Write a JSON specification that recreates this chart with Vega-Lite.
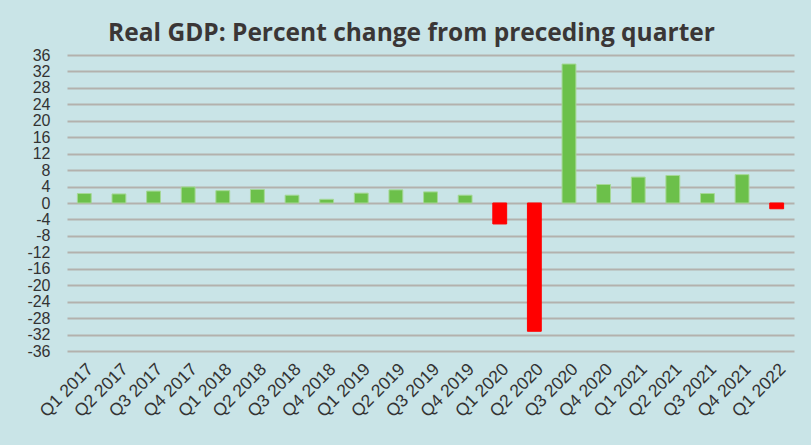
{
  "$schema": "https://vega.github.io/schema/vega-lite/v6.json",
  "width": 727,
  "height": 296,
  "autosize": {"type": "none"},
  "padding": {"left": 67, "top": 55, "right": 17, "bottom": 94},
  "background": "#c9e4e7",
  "title": {
    "text": "Real GDP: Percent change from preceding quarter",
    "font": "Open Sans",
    "fontSize": 24.5,
    "fontWeight": "bold",
    "color": "#3a3636",
    "anchor": "middle",
    "dx": -19,
    "offset": 1
  },
  "data": {
    "values": [
      {"quarter": "Q1 2017", "value": 2.3},
      {"quarter": "Q2 2017", "value": 2.2},
      {"quarter": "Q3 2017", "value": 2.9},
      {"quarter": "Q4 2017", "value": 3.9},
      {"quarter": "Q1 2018", "value": 3.0},
      {"quarter": "Q2 2018", "value": 3.3},
      {"quarter": "Q3 2018", "value": 1.9},
      {"quarter": "Q4 2018", "value": 0.9},
      {"quarter": "Q1 2019", "value": 2.4},
      {"quarter": "Q2 2019", "value": 3.2},
      {"quarter": "Q3 2019", "value": 2.7},
      {"quarter": "Q4 2019", "value": 1.9},
      {"quarter": "Q1 2020", "value": -5.1},
      {"quarter": "Q2 2020", "value": -31.2},
      {"quarter": "Q3 2020", "value": 33.8},
      {"quarter": "Q4 2020", "value": 4.5},
      {"quarter": "Q1 2021", "value": 6.3},
      {"quarter": "Q2 2021", "value": 6.7},
      {"quarter": "Q3 2021", "value": 2.3},
      {"quarter": "Q4 2021", "value": 6.9},
      {"quarter": "Q1 2022", "value": -1.4}
    ]
  },
  "mark": {"type": "bar", "strokeWidth": 1},
  "encoding": {
    "x": {
      "field": "quarter",
      "type": "ordinal",
      "sort": null,
      "scale": {"paddingInner": 0.6, "paddingOuter": 0.3},
      "axis": {
        "title": null,
        "labelAngle": -45,
        "labelFont": "Liberation Sans",
        "labelFontSize": 17.5,
        "labelColor": "#333333",
        "labelPadding": 9,
        "labelOverlap": false,
        "domain": false,
        "ticks": false,
        "grid": false
      }
    },
    "y": {
      "field": "value",
      "type": "quantitative",
      "scale": {"domain": [-36, 36], "nice": false, "zero": false},
      "axis": {
        "title": null,
        "values": [-36, -32, -28, -24, -20, -16, -12, -8, -4, 0, 4, 8, 12, 16, 20, 24, 28, 32, 36],
        "labelExpr": "'' + datum.value",
        "labelFont": "Liberation Sans",
        "labelFontSize": 16,
        "labelColor": "#333333",
        "labelPadding": 17,
        "labelOverlap": false,
        "labelBound": false,
        "domain": false,
        "ticks": false,
        "grid": true,
        "gridColor": "#b3b1ad",
        "gridWidth": 2,
        "gridOpacity": 1
      }
    },
    "color": {
      "condition": {"test": "datum.value < 0", "value": "#ff0000"},
      "value": "#6cc04a"
    },
    "stroke": {
      "condition": {"test": "datum.value < 0", "value": "#ff0000"},
      "value": "#a6d897"
    }
  },
  "config": {
    "view": {"stroke": null}
  }
}
